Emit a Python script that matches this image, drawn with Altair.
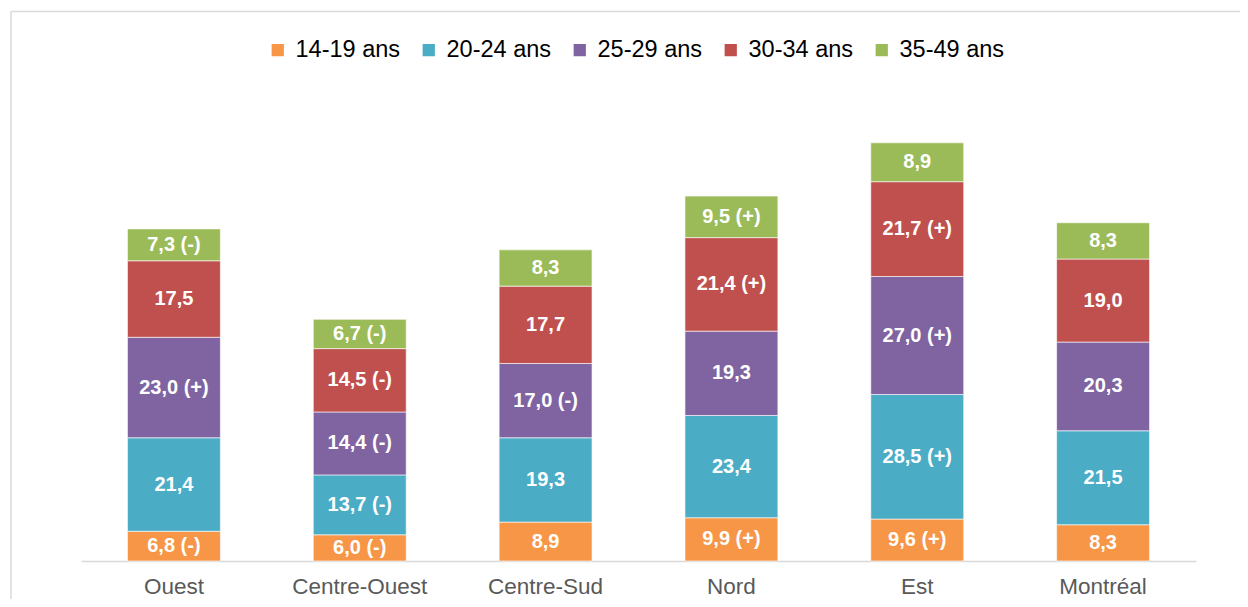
import altair as alt
import pandas as pd

regions = ["Ouest", "Centre-Ouest", "Centre-Sud", "Nord", "Est", "Montréal"]
groups = ["14-19 ans", "20-24 ans", "25-29 ans", "30-34 ans", "35-49 ans"]
colors = ["#F79646", "#4BACC6", "#8064A2", "#C0504D", "#9BBB59"]

v_14_19 = [6.8, 6.0, 8.9, 9.9, 9.6, 8.3]
v_20_24 = [21.4, 13.7, 19.3, 23.4, 28.5, 21.5]
v_25_29 = [23.0, 14.4, 17.0, 19.3, 27.0, 20.3]
v_30_34 = [17.5, 14.5, 17.7, 21.4, 21.7, 19.0]
v_35_49 = [7.3, 6.7, 8.3, 9.5, 8.9, 8.3]

s_14_19 = ["-", "-", "", "+", "+", ""]
s_20_24 = ["", "-", "", "", "+", ""]
s_25_29 = ["+", "-", "-", "", "+", ""]
s_30_34 = ["", "-", "", "+", "+", ""]
s_35_49 = ["-", "-", "", "+", "", ""]

values = [v_14_19, v_20_24, v_25_29, v_30_34, v_35_49]
signs = [s_14_19, s_20_24, s_25_29, s_30_34, s_35_49]

rows = []
for gi, g in enumerate(groups):
    for ri, r in enumerate(regions):
        v = values[gi][ri]
        s = signs[gi][ri]
        label = f"{v:.1f}".replace(".", ",") + (f" ({s})" if s else "")
        rows.append({"region": r, "group": g, "order": gi, "value": v, "label": label})
df = pd.DataFrame(rows)

FONT = "Liberation Sans"

base = alt.Chart(df).transform_stack(
    stack="value", groupby=["region"], as_=["y0", "y1"],
    sort=[alt.SortField("order", order="ascending")]
).transform_calculate(ymid="(datum.y0 + datum.y1) / 2")

xenc = alt.X("region:N", sort=regions, title=None,
             scale=alt.Scale(paddingInner=0.5, paddingOuter=0.25),
             axis=alt.Axis(domainColor="#d9d9d9", domainWidth=1.5, ticks=False,
                           labelFontSize=22.5, labelColor="#595959", labelFont=FONT,
                           labelPadding=14, labelAngle=0, grid=False))
yscale = alt.Scale(domain=[0, 100], nice=False)

bars = base.mark_bar(stroke="white", strokeWidth=0.6).encode(
    x=xenc,
    y=alt.Y("y0:Q", scale=yscale, axis=None),
    y2="y1:Q",
    color=alt.Color("group:N", sort=groups,
                    scale=alt.Scale(domain=groups, range=colors),
                    legend=alt.Legend(title=None, orient="none", direction="horizontal",
                                      legendX=185, legendY=-86,
                                      symbolType="square", symbolSize=150,
                                      symbolStrokeWidth=0, labelFontSize=23.5,
                                      labelFont=FONT, labelColor="#000000",
                                      labelOffset=6, columnPadding=16,
                                      labelLimit=300)),
)

texts = base.mark_text(color="white", fontWeight="bold", fontSize=20, font=FONT,
                       baseline="middle").encode(
    x=alt.X("region:N", sort=regions),
    y=alt.Y("ymid:Q", scale=yscale),
    text="label:N",
)

frame_df = pd.DataFrame({"k": [0]})
top_rule = alt.Chart(frame_df).mark_rule(color="#d9d9d9", strokeWidth=1.5).encode(
    x=alt.value(-70), x2=alt.value(1159), y=alt.value(-112.5))
left_rule = alt.Chart(frame_df).mark_rule(color="#d9d9d9", strokeWidth=1.5).encode(
    x=alt.value(-70), y=alt.value(-112.5), y2=alt.value(475))

chart = alt.layer(bars, texts, top_rule, left_rule).properties(
    width=1115, height=437,
    autosize=alt.AutoSizeParams(type="none"),
    padding={"left": 73, "top": 116, "right": 44, "bottom": 38},
).configure_view(stroke=None)

chart.save("out.html", embed_options={"renderer": "svg", "actions": False})
